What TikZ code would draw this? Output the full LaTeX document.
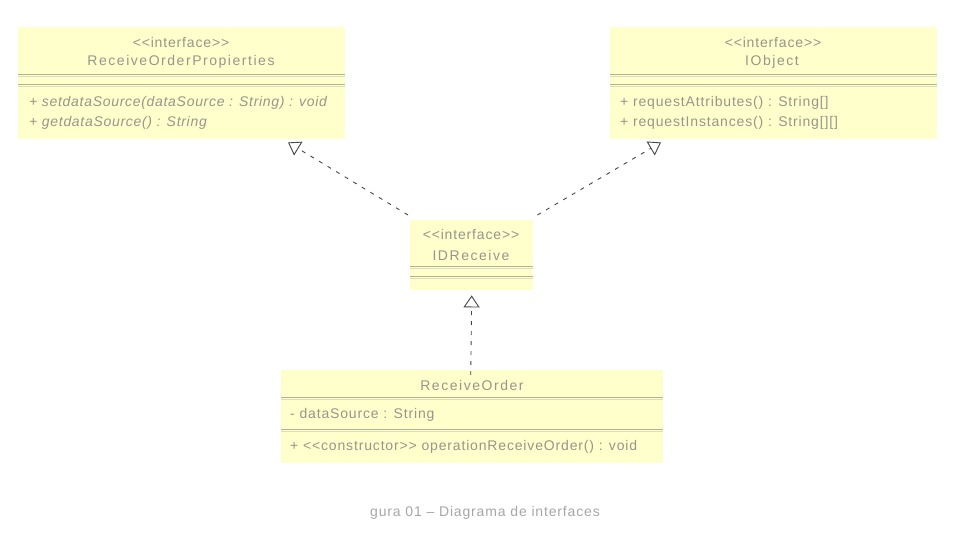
\documentclass[tikz,border=0pt]{standalone}
\usepackage{fontspec}
\setmainfont{Liberation Sans}[Ligatures=NoCommon]
\usetikzlibrary{arrows.meta}
\definecolor{uyellow}{RGB}{255,255,204}
\definecolor{sepdark}{RGB}{178,178,150}
\definecolor{seplight}{RGB}{220,220,190}
\definecolor{utext}{RGB}{150,150,140}
\definecolor{uline}{RGB}{70,70,70}
\begin{document}
\begin{tikzpicture}[x=1pt,y=-1pt,
  umlbox/.style={fill=uyellow, draw=none, anchor=north west, inner sep=0pt},
  ctext/.style={font=\addfontfeatures{LetterSpace=6}\fontsize{14}{16}\selectfont, text=utext, inner sep=0pt},
  ntext/.style={ctext, font=\addfontfeatures{LetterSpace=11}\fontsize{14}{16}\selectfont},
  ltext/.style={ctext, anchor=west},
  itext/.style={ltext, font=\addfontfeatures{LetterSpace=5}\fontsize{14}{16}\selectfont\itshape},
  sepA/.style={draw=sepdark, line width=0.8pt},
  sepB/.style={draw=seplight, line width=0.8pt},
  dep/.style={draw=uline, line width=0.9pt, dash pattern=on 4pt off 6pt,
    -{Triangle[open, length=12pt, width=16pt, fill=white, line width=0.9pt]}}
]
\useasboundingbox (0,0) rectangle (967,539);
% Box 1
\node[umlbox, minimum width=327pt, minimum height=112pt] (p) at (18,27) {};
\node[ctext] (pst) at (181,42) {<{}<interface>{}>};
\node[ntext] (pnm) at (181,62) {ReceiveOrderPropierties};
\draw[sepA] (18,74.5) -- (345,74.5); \draw[sepB] (18,76.5) -- (345,76.5);
\draw[sepA] (18,84.5) -- (345,84.5); \draw[sepB] (18,86.5) -- (345,86.5);
\node[itext] (pm1) at (29,103) {+ setdataSource(dataSource : String) : void};
\node[itext] (pm2) at (29,123) {+ getdataSource() : String};
% Box 2
\node[umlbox, minimum width=327pt, minimum height=112pt] (o) at (610,27) {};
\node[ctext] (ost) at (773,42) {<{}<interface>{}>};
\node[ntext] (onm) at (772,62) {IObject};
\draw[sepA] (610,74.5) -- (937,74.5); \draw[sepB] (610,76.5) -- (937,76.5);
\draw[sepA] (610,84.5) -- (937,84.5); \draw[sepB] (610,86.5) -- (937,86.5);
\node[ltext] (om1) at (620,103) {+ requestAttributes() : String[]};
\node[ltext] (om2) at (620,123) {+ requestInstances() : String[][]};
% Box 3
\node[umlbox, minimum width=123pt, minimum height=70pt] (d) at (410,220) {};
\node[ctext] (dst) at (471,234) {<{}<interface>{}>};
\node[ntext] (dnm) at (471,255) {IDReceive};
\draw[sepA] (410,266.5) -- (533,266.5); \draw[sepB] (410,268.5) -- (533,268.5);
\draw[sepA] (410,276.5) -- (533,276.5); \draw[sepB] (410,278.5) -- (533,278.5);
% Box 4
\node[umlbox, minimum width=382pt, minimum height=93pt] (r) at (281,370) {};
\node[ntext] (rnm) at (472,385) {ReceiveOrder};
\draw[sepA] (281,397.5) -- (663,397.5); \draw[sepB] (281,399.5) -- (663,399.5);
\node[ltext] (ra1) at (290,415) {- dataSource : String};
\draw[sepA] (281,429.5) -- (663,429.5); \draw[sepB] (281,431.5) -- (663,431.5);
\node[ltext] (rm1) at (290,447) {+ <{}<constructor>{}> operationReceiveOrder() : void};
% Caption
\node[ctext, text=black!35] (cap) at (485,513) {gura 01 – Diagrama de interfaces};
% Connectors
\coordinate (d1) at ([xshift=-2pt,yshift=5pt]d.north west);
\coordinate (d2) at ([xshift=4pt,yshift=5pt]d.north east);
\coordinate (p1) at ([xshift=270pt,yshift=-3pt]p.south west);
\coordinate (o1) at ([xshift=51pt,yshift=-3pt]o.south west);
\coordinate (r1) at ([xshift=-1pt,yshift=-5pt]r.north -| d.south);
\coordinate (d3) at ([yshift=-5pt]d.south);
\draw[dep] (d1) -- (p1);
\draw[dep] (d2) -- (o1);
\draw[dep] (r1) -- (d3);
\end{tikzpicture}
\end{document}
